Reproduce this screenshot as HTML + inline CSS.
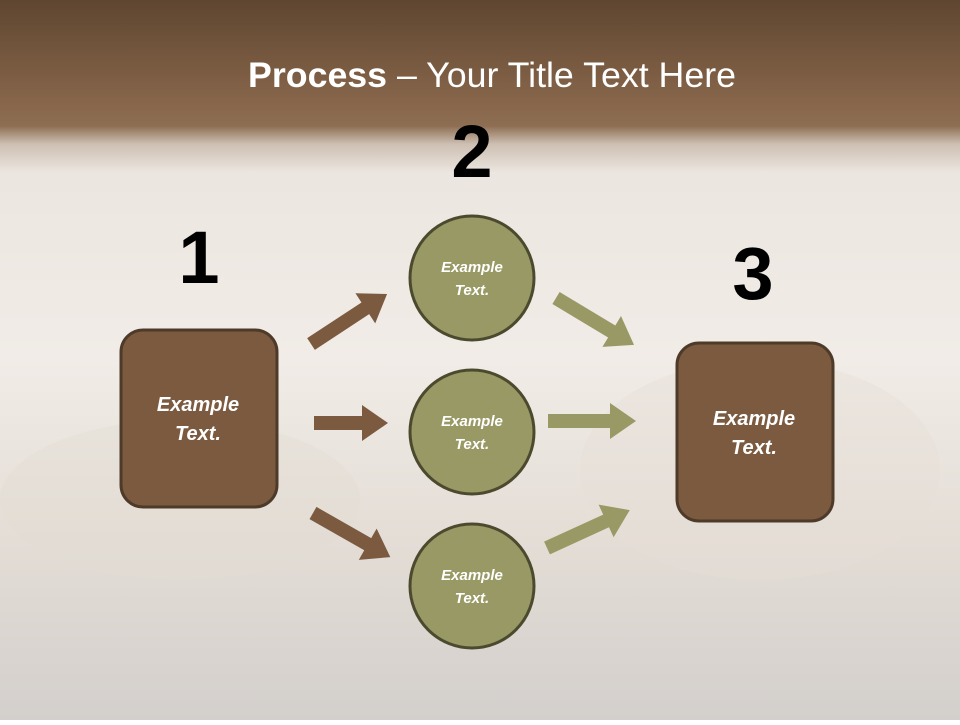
<!DOCTYPE html>
<html><head><meta charset="utf-8"><style>
html,body{margin:0;padding:0;}
body{width:960px;height:720px;overflow:hidden;}
svg text{font-family:"Liberation Sans",sans-serif;}
</style></head><body>
<svg width="960" height="720" viewBox="0 0 960 720" xmlns="http://www.w3.org/2000/svg">
<defs>
<linearGradient id="bg" x1="0" y1="0" x2="0" y2="1">
<stop offset="0" stop-color="#5f4630"/>
<stop offset="0.14" stop-color="#86654a"/>
<stop offset="0.175" stop-color="#8e6e52"/>
<stop offset="0.2" stop-color="#cdbfb2"/>
<stop offset="0.24" stop-color="#ece6e0"/>
<stop offset="0.5" stop-color="#f1ece7"/>
<stop offset="0.75" stop-color="#e4ddd6"/>
<stop offset="1" stop-color="#d3cfcc"/>
</linearGradient>
</defs>
<rect width="960" height="720" fill="url(#bg)"/>
<ellipse cx="180" cy="500" rx="180" ry="80" fill="#e2dbd3" opacity="0.4"/>
<ellipse cx="760" cy="470" rx="180" ry="110" fill="#e6dfd8" opacity="0.4"/>

<text x="492" y="87" text-anchor="middle" font-size="35" fill="#fff" textLength="488" lengthAdjust="spacingAndGlyphs"><tspan font-weight="bold">Process</tspan> – Your Title Text Here</text>

<text x="199" y="283" text-anchor="middle" font-size="74" font-weight="bold" fill="#000">1</text>
<text x="472" y="177" text-anchor="middle" font-size="74" font-weight="bold" fill="#000">2</text>
<text x="753" y="299" text-anchor="middle" font-size="74" font-weight="bold" fill="#000">3</text>

<g fill="#7b5a40">
<g transform="translate(311,344) rotate(-33.3)"><polygon points="0,-7 65,-7 65,-18 91,0 65,18 65,7 0,7"/></g>
<g transform="translate(314,423)"><polygon points="0,-7 48,-7 48,-18 74,0 48,18 48,7 0,7"/></g>
<g transform="translate(313,513) rotate(29.7)"><polygon points="0,-7 63,-7 63,-18 89,0 63,18 63,7 0,7"/></g>
</g>
<g fill="#999966">
<g transform="translate(556,298) rotate(31)"><polygon points="0,-7 65,-7 65,-18 91,0 65,18 65,7 0,7"/></g>
<g transform="translate(548,421)"><polygon points="0,-7 62,-7 62,-18 88,0 62,18 62,7 0,7"/></g>
<g transform="translate(547,548) rotate(-24.6)"><polygon points="0,-7 65,-7 65,-18 91,0 65,18 65,7 0,7"/></g>
</g>

<rect x="121" y="330" width="156" height="177" rx="22" fill="#7b5a40" stroke="#4e3a28" stroke-width="3"/>
<rect x="677" y="343" width="156" height="178" rx="22" fill="#7b5a40" stroke="#4e3a28" stroke-width="3"/>
<g font-size="20" font-weight="bold" font-style="italic" fill="#fff" text-anchor="middle">
<text x="198" y="411">Example</text><text x="198" y="440">Text.</text>
<text x="754" y="425">Example</text><text x="754" y="454">Text.</text>
</g>

<g fill="#999966" stroke="#4c4a2e" stroke-width="3">
<circle cx="472" cy="278" r="62"/>
<circle cx="472" cy="432" r="62"/>
<circle cx="472" cy="586" r="62"/>
</g>
<g font-size="15" font-weight="bold" font-style="italic" fill="#fff" text-anchor="middle">
<text x="472" y="272">Example</text><text x="472" y="295">Text.</text>
<text x="472" y="426">Example</text><text x="472" y="449">Text.</text>
<text x="472" y="580">Example</text><text x="472" y="603">Text.</text>
</g>
</svg>
</body></html>
